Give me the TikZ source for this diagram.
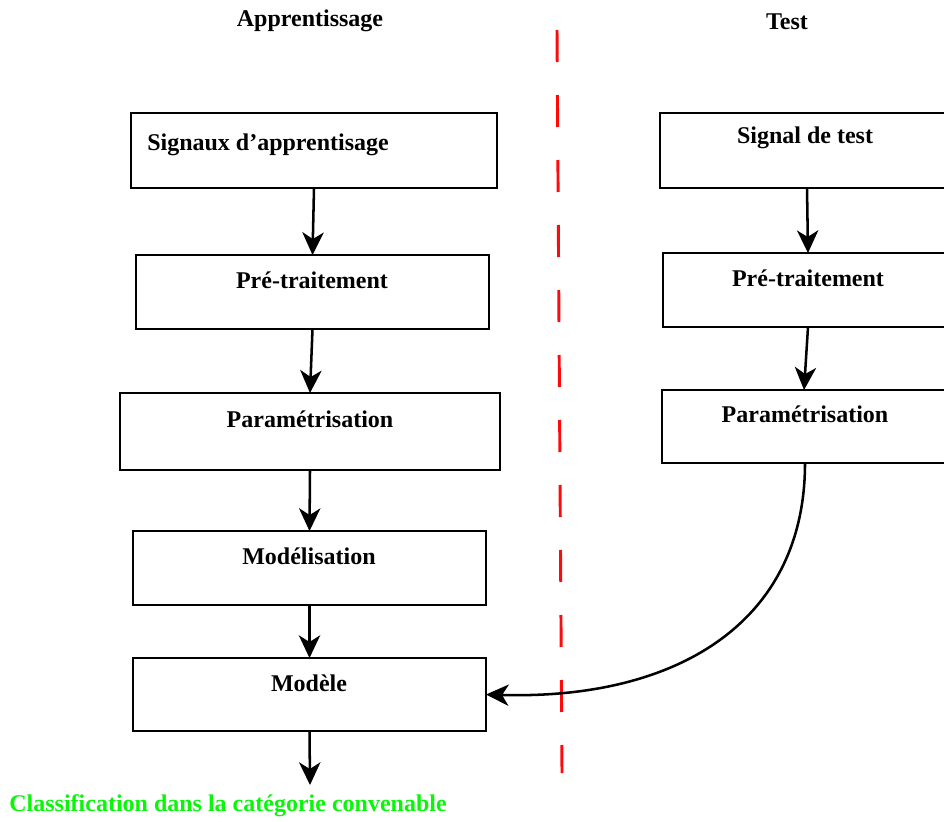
\documentclass[tikz,border=0pt]{standalone}
\usepackage{fontspec}
\setmainfont{Liberation Serif}
\usetikzlibrary{arrows.meta,calc}

\definecolor{dashred}{RGB}{255,10,10}
\definecolor{outgreen}{RGB}{10,245,10}

% one picture unit = 0.75pt
\tikzset{
  box/.style={draw=black, line width=2.2pt, minimum width=0.75pt*#1, minimum height=55.5pt, inner sep=0pt, outer sep=0pt},
  boxh/.style={minimum height=0.75pt*#1},
  lbl/.style={font=\fontsize{18pt}{21pt}\selectfont\bfseries, inner sep=0pt, anchor=center},
  flow/.style={line width=1.9pt, -{Stealth[length=17pt, width=16pt, inset=5pt]}},
  divider/.style={dashred, line width=2.2pt, dash pattern=on 24pt off 24.75pt}
}

\begin{document}
\begin{tikzpicture}[x=0.75pt, y=-0.75pt]
  \useasboundingbox (0,0) rectangle (944,821);
  \clip (0,0) rectangle (944,821);

  % column titles
  \node[lbl] (tA) at (310,21) {Apprentissage};
  \node[lbl] (tT) at (787,22) {Test};

  % separator between the two phases
  \coordinate (d1) at (557,30);
  \coordinate (d2) at (562,773);
  \draw[divider] (d1) -- (d2);

  % learning column
  \node[box=366, boxh=75] (L1) at (314,150.5) {};
  \node[box=353] (L2) at (312.5,292) {};
  \node[box=380, boxh=77] (L3) at (310,431.5) {};
  \node[box=353] (L4) at (309.5,568) {};
  \node[box=353, boxh=73] (L5) at (309.5,694.5) {};

  \node[lbl, anchor=west] (L1t) at (147,145) {Signaux d’apprentisage};
  \node[lbl] (L2t) at (312,280) {Pré-traitement};
  \node[lbl] (L3t) at (310,419) {Paramétrisation};
  \node[lbl] (L4t) at (309,556) {Modélisation};
  \node[lbl] (L5t) at (309,683) {Modèle};

  % test column (runs off the right edge)
  \node[box=292, boxh=75] (R1) at (806,150.5) {};
  \node[box=290] (R2) at (808,290) {};
  \node[box=288, boxh=73] (R3) at (806,426.5) {};

  \node[lbl] (R1t) at (805,138) {Signal de test};
  \node[lbl] (R2t) at (808,278) {Pré-traitement};
  \node[lbl] (R3t) at (805,414) {Paramétrisation};

  % result
  \node[lbl, text=outgreen] (res) at (228,806) {Classification dans la catégorie convenable};
  \coordinate (out) at (310,785);

  % connectors
  \draw[flow] (L1.south) -- (L2.north);
  \draw[flow] (L2.south) -- (L3.north);
  \draw[flow] (L3.south) -- (L4.north);
  \draw[flow] (L4.south) -- (L5.north);
  \draw[flow] (L5.south) -- (out);

  \draw[flow] ($(R1.south)+(1,0)$) -- (R2.north);
  \draw[flow] (R2.south) -- ($(R3.north)+(-2,0)$);
  \draw[flow] ($(R3.south)+(-1,0)$) .. controls (805,623) and (676,700) .. (L5.east);
\end{tikzpicture}
\end{document}
